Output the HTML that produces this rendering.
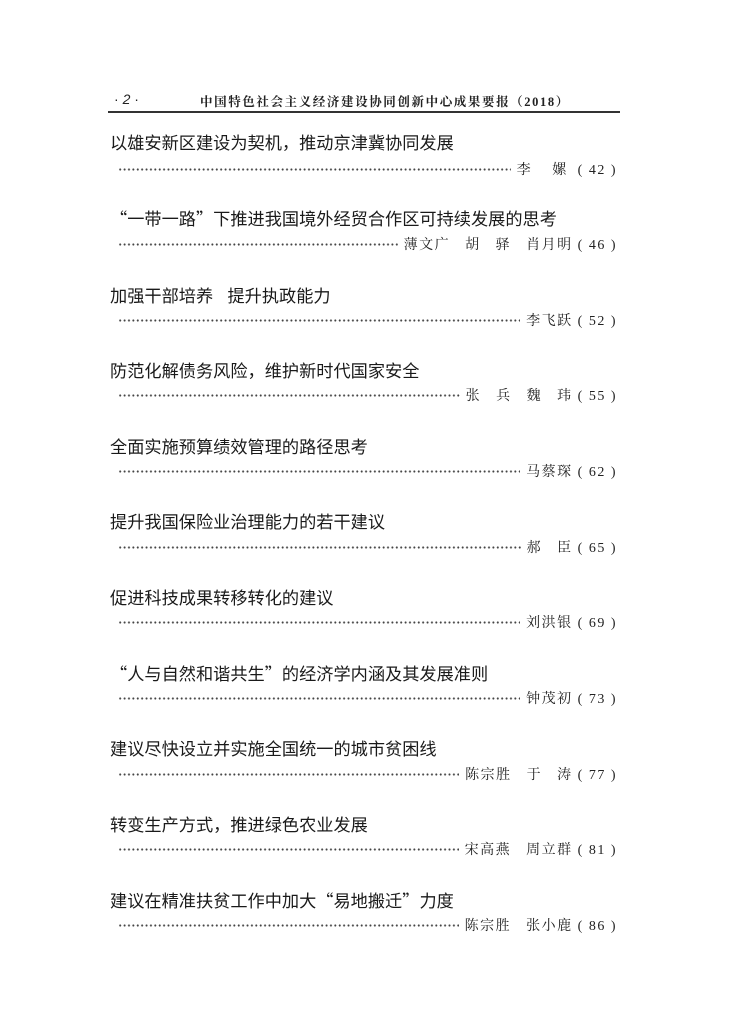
<!DOCTYPE html>
<html><head><meta charset="utf-8">
<style>
html,body{margin:0;padding:0;background:#fff;}
body{width:730px;height:1033px;position:relative;overflow:hidden;font-family:"Liberation Sans","Noto Sans CJK SC",sans-serif;color:#222;}
.hdr{position:absolute;top:91px;left:114px;font-family:"Liberation Sans",sans-serif;font-size:14px;color:#222;white-space:pre;}
.hdr2{position:absolute;top:92px;left:200px;font-family:"Liberation Serif","Noto Serif CJK SC",serif;font-size:12.5px;letter-spacing:1.6px;white-space:pre;font-weight:bold;}
.rule{position:absolute;top:111px;left:108px;width:512px;height:2px;background:#333;}
.t{position:absolute;left:110px;font-size:17.2px;line-height:20px;white-space:pre;color:#1a1a1a;}
.q{font-family:"Noto Sans CJK SC",sans-serif;}
.r{position:absolute;left:118px;width:499px;height:18px;display:flex;align-items:center;}
.d{flex:1;height:3px;background:radial-gradient(circle,#444 0.9px,transparent 1.1px) 0 0/4.4px 3px repeat-x;}
.a{margin-left:6px;font-family:"Liberation Serif","Noto Serif CJK SC",serif;font-size:14px;letter-spacing:1.5px;white-space:pre;color:#222;}
</style></head><body>
<div class="hdr">· <i>2</i> ·</div>
<div class="hdr2">中国特色社会主义经济建设协同创新中心成果要报（2018）</div>
<div class="rule"></div>

<div class="t" style="top:133px">以雄安新区建设为契机，推动京津冀协同发展</div>
<div class="r" style="top:160px"><div class="d"></div><span class="a">李    嫘  ( 42 )</span></div>

<div class="t" style="top:208px"><span class="q">“</span>一带一路<span class="q">”</span>下推进我国境外经贸合作区可持续发展的思考</div>
<div class="r" style="top:235px"><div class="d"></div><span class="a">薄文广   胡   驿   肖月明 ( 46 )</span></div>

<div class="t" style="top:286px">加强干部培养   提升执政能力</div>
<div class="r" style="top:311px"><div class="d"></div><span class="a">李飞跃 ( 52 )</span></div>

<div class="t" style="top:361px">防范化解债务风险，维护新时代国家安全</div>
<div class="r" style="top:386px"><div class="d"></div><span class="a">张   兵   魏   玮 ( 55 )</span></div>

<div class="t" style="top:437px">全面实施预算绩效管理的路径思考</div>
<div class="r" style="top:462px"><div class="d"></div><span class="a">马蔡琛 ( 62 )</span></div>

<div class="t" style="top:512px">提升我国保险业治理能力的若干建议</div>
<div class="r" style="top:538px"><div class="d"></div><span class="a">郝   臣 ( 65 )</span></div>

<div class="t" style="top:588px">促进科技成果转移转化的建议</div>
<div class="r" style="top:613px"><div class="d"></div><span class="a">刘洪银 ( 69 )</span></div>

<div class="t" style="top:663px"><span class="q">“</span>人与自然和谐共生<span class="q">”</span>的经济学内涵及其发展准则</div>
<div class="r" style="top:689px"><div class="d"></div><span class="a">钟茂初 ( 73 )</span></div>

<div class="t" style="top:739px">建议尽快设立并实施全国统一的城市贫困线</div>
<div class="r" style="top:765px"><div class="d"></div><span class="a">陈宗胜   于   涛 ( 77 )</span></div>

<div class="t" style="top:815px">转变生产方式，推进绿色农业发展</div>
<div class="r" style="top:840px"><div class="d"></div><span class="a">宋高燕   周立群 ( 81 )</span></div>

<div class="t" style="top:890px">建议在精准扶贫工作中加大<span class="q">“</span>易地搬迁<span class="q">”</span>力度</div>
<div class="r" style="top:916px"><div class="d"></div><span class="a">陈宗胜   张小鹿 ( 86 )</span></div>
</body></html>
